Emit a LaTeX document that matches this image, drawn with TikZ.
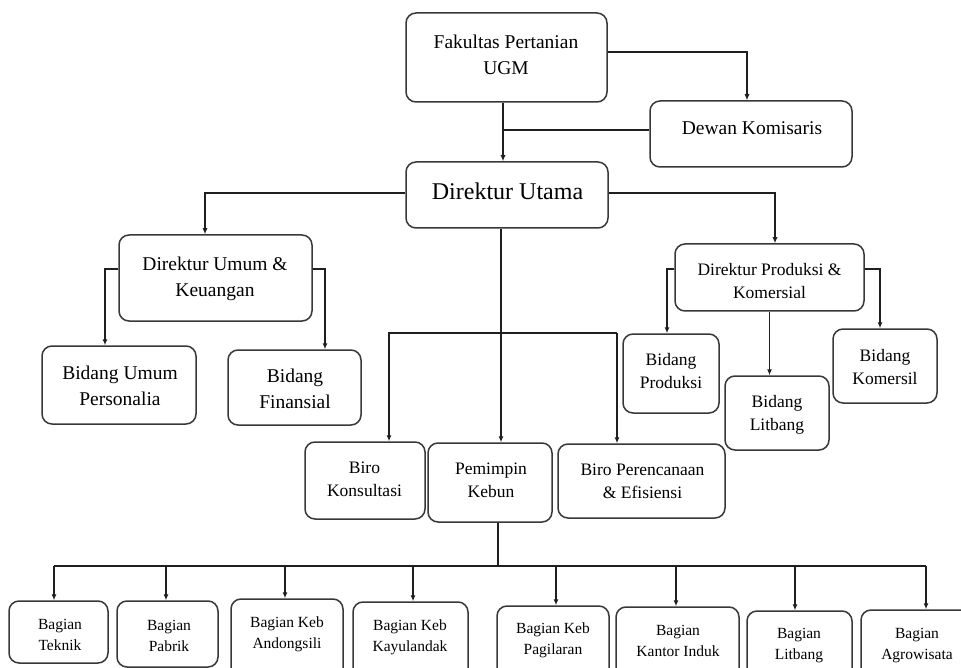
\documentclass[tikz,border=0pt]{standalone}
\usepackage{fontspec}
\setmainfont{Liberation Serif}
\usetikzlibrary{arrows.meta,fit}
\newcommand\fA{\fontsize{19.5}{26}\selectfont}
\newcommand\fB{\fontsize{24}{32}\selectfont}
\newcommand\fC{\fontsize{17.5}{23}\selectfont}
\newcommand\fD{\fontsize{15.5}{21.5}\selectfont}
\begin{document}
\begin{tikzpicture}[x=1pt,y=-1pt,
 box/.style={draw=black!78, line width=1.5pt, rounded corners=10pt, inner sep=0pt},
 txt/.style={align=center, inner sep=0pt, anchor=north, text=black},
 arr/.style={draw=black!88, line width=1.1pt, -{Latex[length=6pt,width=5pt]}},
 ln/.style={draw=black!88, line width=1.1pt}]
\useasboundingbox (0,0) rectangle (961,668);
\clip (0,0) rectangle (961,668);
% boxes
\node[box, fit={(406,13) (607,102)}] (fak) {};
\node[box, fit={(650,101) (852,167)}] (dew) {};
\node[box, fit={(406,162) (608,228)}] (dut) {};
\node[box, fit={(119,235) (312,321)}] (dum) {};
\node[box, fit={(42,346) (196,424)}] (bup) {};
\node[box, fit={(228,350) (361,425)}] (bfi) {};
\node[box, fit={(675,244) (864,311)}] (dpr) {};
\node[box, fit={(623,334) (719,413)}] (bpr) {};
\node[box, fit={(725,376) (829,450)}] (blt) {};
\node[box, fit={(833,329) (937,403)}] (bkm) {};
\node[box, fit={(305,442) (425,519)}] (bko) {};
\node[box, fit={(428,443) (552,522)}] (pk) {};
\node[box, fit={(558,444) (725,518)}] (bpe) {};
\node[box, fit={(9,601) (108,663)}] (tek) {};
\node[box, fit={(117,601) (218,667)}] (pab) {};
\node[box, fit={(231,599) (343,680)}] (and) {};
\node[box, fit={(353,602) (468,680)}] (kay) {};
\node[box, fit={(497,606) (609,685)}] (pag) {};
\node[box, fit={(616,607) (739,685)}] (kan) {};
\node[box, fit={(747,611) (852,685)}] (lit) {};
\node[box, fit={(861,610) (975,685)}] (agr) {};
% texts
\node[txt, font=\fA] (fakT) at (506,29.8) {\strut Fakultas Pertanian\\\strut UGM};
\node[txt, font=\fA] (dewT) at (752,115.8) {\strut Dewan Komisaris};
\node[txt, font=\fB] (dutT) at (507.5,176.6) {\strut Direktur Utama};
\node[txt, font=\fA] (dumT) at (215,251.8) {\strut Direktur Umum \&\\\strut Keuangan};
\node[txt, font=\fA] (bupT) at (120,360.8) {\strut Bidang Umum\\\strut Personalia};
\node[txt, font=\fA] (bfiT) at (295,363.8) {\strut Bidang\\\strut Finansial};
\node[txt, font=\fC] (dprT) at (769.5,258.9) {\strut Direktur Produksi \&\\\strut Komersial};
\node[txt, font=\fC] (bprT) at (671,348.9) {\strut Bidang\\\strut Produksi};
\node[txt, font=\fC] (bltT) at (777,390.9) {\strut Bidang\\\strut Litbang};
\node[txt, font=\fC] (bkmT) at (885,344.9) {\strut Bidang\\\strut Komersil};
\node[txt, font=\fC] (bkoT) at (364.5,456.9) {\strut Biro\\\strut Konsultasi};
\node[txt, font=\fC] (pkT) at (491,457.9) {\strut Pemimpin\\\strut Kebun};
\node[txt, font=\fC] (bpeT) at (642.5,458.9) {\strut Biro Perencanaan\\\strut \& Efisiensi};
\node[txt, font=\fD] (tekT) at (60,614) {\strut Bagian\\\strut Teknik};
\node[txt, font=\fD] (pabT) at (169,615) {\strut Bagian\\\strut Pabrik};
\node[txt, font=\fD] (andT) at (287,612) {\strut Bagian Keb\\\strut Andongsili};
\node[txt, font=\fD] (kayT) at (410,615) {\strut Bagian Keb\\\strut Kayulandak};
\node[txt, font=\fD] (pagT) at (553,618) {\strut Bagian Keb\\\strut Pagilaran};
\node[txt, font=\fD] (kanT) at (678,620) {\strut Bagian\\\strut Kantor Induk};
\node[txt, font=\fD] (litT) at (799,623) {\strut Bagian\\\strut Litbang};
\node[txt, font=\fD] (agrT) at (917,623) {\strut Bagian\\\strut Agrowisata};
% junction coordinates
\coordinate (c1) at (747,52);
\coordinate (c2) at (503,130);
\coordinate (c3) at (205,193);
\coordinate (c4) at (775,193);
\coordinate (c5) at (501,333);
\coordinate (c6) at (389,333);
\coordinate (c7) at (617,333);
\coordinate (c8) at (105,269);
\coordinate (c9) at (325,269);
\coordinate (c10) at (667,269);
\coordinate (c11) at (880,269);
\coordinate (c13) at (498,566);
\coordinate (b1) at (54,566);
\coordinate (b2) at (166,566);
\coordinate (b3) at (285,566);
\coordinate (b4) at (413,566);
\coordinate (b5) at (556,566);
\coordinate (b6) at (676,566);
\coordinate (b7) at (795,566);
\coordinate (b8) at (926,566);
% connectors
\draw[arr] (fak.east |- c1) -- (c1) -- (c1 |- dew.north);
\draw[arr] (c2 |- fak.south) -- (c2 |- dut.north);
\draw[ln] (dew.west |- c2) -- (c2);
\draw[arr] (dut.west |- c3) -- (c3) -- (c3 |- dum.north);
\draw[arr] (dut.east |- c4) -- (c4) -- (c4 |- dpr.north);
\draw[arr] (c5 |- dut.south) -- (c5 |- pk.north);
\draw[arr] (c7) -- (c6) -- (c6 |- bko.north);
\draw[arr] (c7) -- (c7 |- bpe.north);
\draw[arr] (dum.west |- c8) -- (c8) -- (c8 |- bup.north);
\draw[arr] (dum.east |- c9) -- (c9) -- (c9 |- bfi.north);
\draw[arr] (dpr.west |- c10) -- (c10) -- (c10 |- bpr.north);
\draw[arr] (dpr.east |- c11) -- (c11) -- (c11 |- bkm.north);
\draw[arr] (dpr.south) -- (dpr.south |- blt.north);
\draw[ln] (c13 |- pk.south) -- (c13);
\draw[ln] (b1) -- (b8);
\draw[arr] (b1) -- (b1 |- tek.north);
\draw[arr] (b2) -- (b2 |- pab.north);
\draw[arr] (b3) -- (b3 |- and.north);
\draw[arr] (b4) -- (b4 |- kay.north);
\draw[arr] (b5) -- (b5 |- pag.north);
\draw[arr] (b6) -- (b6 |- kan.north);
\draw[arr] (b7) -- (b7 |- lit.north);
\draw[arr] (b8) -- (b8 |- agr.north);
\end{tikzpicture}
\end{document}
